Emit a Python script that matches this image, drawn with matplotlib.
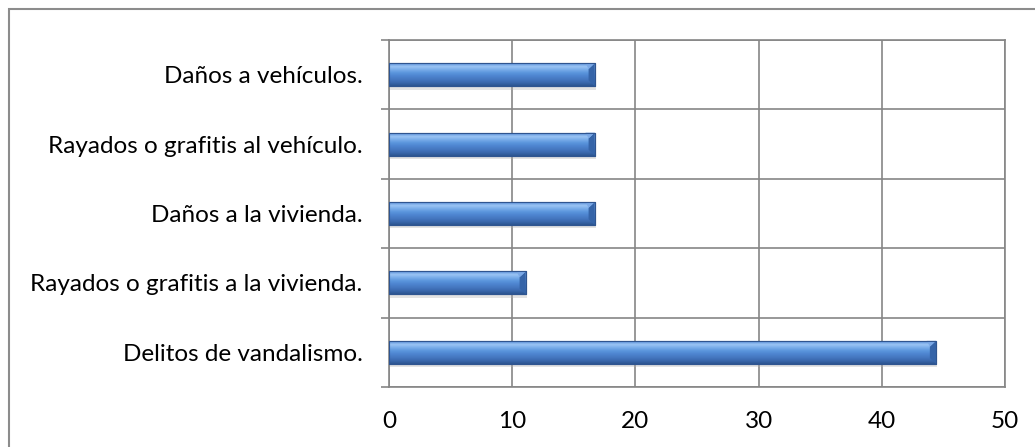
import numpy as np
import matplotlib.pyplot as plt
from matplotlib.patches import Rectangle, Polygon
from matplotlib.colors import LinearSegmentedColormap

categorias = [
    "Delitos de vandalismo.",
    "Rayados o grafitis a la vivienda.",
    "Daños a la vivienda.",
    "Rayados o grafitis al vehículo.",
    "Daños a vehículos.",
]
valores = [44.4, 11.1, 16.7, 16.7, 16.7]
xticks = [0, 10, 20, 30, 40, 50]

plt.rcParams["font.family"] = ["Lato", "DejaVu Sans"]

W, H = 1035, 447
fig = plt.figure(figsize=(W / 100, H / 100), dpi=100)
ax = fig.add_axes([389 / W, 1 - 387 / H, (1005 - 389) / W, (387 - 40) / H])

# marco exterior
fig.patches.append(Rectangle((9 / W, -0.1), 1.2, 1 - 9 / H + 0.1, transform=fig.transFigure,
                             fill=False, edgecolor="#8c8c8c", linewidth=1.5))

y = np.arange(len(categorias))
alto = 0.33
bars = ax.barh(y, valores, height=alto, color="#4a7fc8", edgecolor="#2f5590",
               linewidth=0.8, zorder=3)

grad = LinearSegmentedColormap.from_list(
    "bev", ["#2c5590", "#3a68ad", "#4577c0", "#4d84cf", "#5a94dc",
            "#78ace9", "#9ac4f4", "#5a8fd8"])
img = np.linspace(0, 1, 64).reshape(-1, 1)

for b in bars:
    x0, y0 = b.get_x(), b.get_y()
    w, h = b.get_width(), b.get_height()
    # sombra
    ax.add_patch(Rectangle((x0 + 0.1, y0 - 0.05), w, h, facecolor="#b0b0b0",
                           alpha=0.35, edgecolor="none", zorder=2))
    im = ax.imshow(img, extent=(x0, x0 + w, y0, y0 + h), aspect="auto",
                   cmap=grad, origin="lower", zorder=3.5)
    im.set_clip_path(b)
    bv = 0.5
    bh = h * 0.25
    # biselado extremo derecho
    ax.add_patch(Polygon([(x0 + w - bv, y0 + h - bh), (x0 + w, y0 + h),
                          (x0 + w, y0), (x0 + w - bv, y0 + bh)],
                         closed=True, facecolor="#3564a8", edgecolor="none", zorder=4))
    ax.add_patch(Polygon([(x0 + w - bv, y0 + h - bh), (x0 + w, y0 + h),
                          (x0 + w - bv * 1.5, y0 + h)],
                         closed=True, facecolor="#7aa8e6", edgecolor="none", zorder=4))
    ax.add_patch(Rectangle((x0, y0), w, h, fill=False, edgecolor="#2f5590",
                           linewidth=0.8, zorder=5))

ax.set_xlim(0, 50)
ax.set_ylim(-0.5, len(categorias) - 0.5)
ax.set_xticks(xticks)
ax.set_yticks(y)
ax.set_yticklabels(categorias)
ax.set_yticks(np.arange(-0.5, len(categorias), 1), minor=True)

gris = "#868686"
ax.grid(axis="x", which="major", color=gris, linewidth=1.2, zorder=0)
ax.grid(axis="y", which="minor", color=gris, linewidth=1.2, zorder=0)
ax.set_axisbelow(True)
for s in ax.spines.values():
    s.set_color(gris)
    s.set_linewidth(1.2)

ax.tick_params(axis="x", length=0, pad=17, labelsize=17.5)
ax.tick_params(axis="y", which="major", length=0, pad=19, labelsize=17.5)
ax.tick_params(axis="y", which="minor", length=6, width=1.2, color=gris)

fig.savefig("out.png", dpi=100)
